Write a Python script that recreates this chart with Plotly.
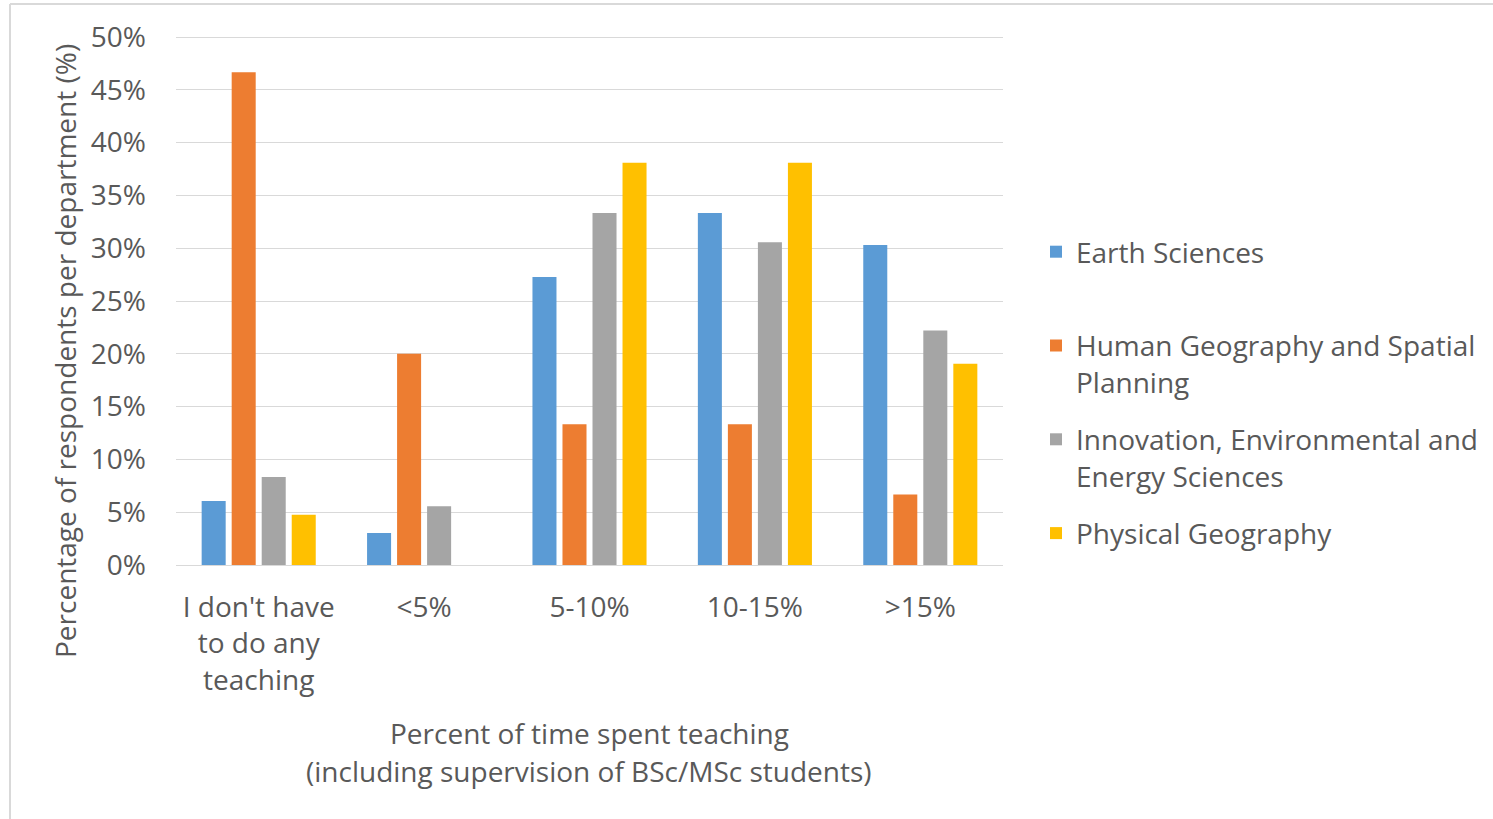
import plotly.graph_objects as go

# Share of respondents per department, by time spent teaching
categories = ["I don't have<br>to do any<br>teaching", "<5%", "5-10%", "10-15%", ">15%"]
earth_sciences = [6.06, 3.03, 27.27, 33.33, 30.30]
human_geography = [46.67, 20.00, 13.33, 13.33, 6.67]
innovation_env = [8.33, 5.56, 33.33, 30.56, 22.22]
physical_geography = [4.76, 0.0, 38.10, 38.10, 19.05]

series_names = [
    "Earth Sciences<br> ",
    "Human Geography and Spatial<br>Planning",
    "Innovation, Environmental and<br>Energy Sciences",
    "Physical Geography",
]
series_values = [earth_sciences, human_geography, innovation_env, physical_geography]
series_colors = ["#5B9BD5", "#ED7D31", "#A5A5A5", "#FFC000"]
y_ticks = [0, 5, 10, 15, 20, 25, 30, 35, 40, 45, 50]
y_ticktext = [f"{v}%" for v in y_ticks]

TEXT = "#595959"
FONT = "Open Sans"
FS = 28
W, H = 1493, 819
Y_MAX = 50.1
L, R, B = 176, 490, 254
PX_PER_UNIT = (565 - 37) / 50
T = round(37 - (Y_MAX - 50) * PX_PER_UNIT)
PW, PH = W - L - R, H - T - B

fig = go.Figure()
for name, vals, col in zip(series_names, series_values, series_colors):
    fig.add_trace(go.Bar(
        x=categories, y=vals, name=name, legendgroup=name,
        marker=dict(color=col, line=dict(width=0)),
    ))


def px_x(px):
    return (px - L) / PW


def px_y(py):
    return (H - B - py) / PH


fig.update_layout(
    width=W, height=H,
    margin=dict(l=L, r=R, t=T, b=B, autoexpand=False),
    paper_bgcolor="white", plot_bgcolor="white",
    font=dict(family=FONT, color=TEXT, size=FS),
    barmode="group", bargap=0.274, bargroupgap=0.2,
    showlegend=True,
    legend=dict(
        x=px_x(1036), y=px_y(227), xanchor="left", yanchor="top",
        font=dict(family=FONT, size=FS, color=TEXT),
        valign="top", tracegroupgap=18, bgcolor="rgba(0,0,0,0)",
    ),
    xaxis=dict(
        showgrid=False, showline=False, zeroline=False, ticks="",
        tickfont=dict(family=FONT, size=FS, color=TEXT),
        ticklabelstandoff=23,
    ),
    yaxis=dict(
        range=[0, Y_MAX], tickmode="array", tickvals=y_ticks, ticktext=y_ticktext,
        showgrid=True, gridcolor="#D9D9D9", gridwidth=1,
        zeroline=True, zerolinecolor="#D9D9D9", zerolinewidth=1,
        showline=False, ticks="",
        tickfont=dict(family=FONT, size=FS, color=TEXT),
        ticklabelstandoff=29,
    ),
    annotations=[
        dict(text="Percentage of respondents per department (%)", textangle=-90,
             xref="paper", yref="paper", x=px_x(65), y=px_y(351),
             xanchor="center", yanchor="middle", showarrow=False,
             font=dict(family=FONT, size=FS, color=TEXT)),
        dict(text="Percent of time spent teaching",
             xref="paper", yref="paper", x=px_x(589), y=px_y(733),
             xanchor="center", yanchor="middle", showarrow=False,
             font=dict(family=FONT, size=FS, color=TEXT)),
        dict(text="(including supervision of BSc/MSc students)",
             xref="paper", yref="paper", x=px_x(589), y=px_y(771),
             xanchor="center", yanchor="middle", showarrow=False,
             font=dict(family=FONT, size=FS, color=TEXT)),
    ],
    shapes=[
        dict(type="line", xref="paper", yref="paper",
             x0=px_x(10), x1=px_x(10), y0=px_y(4), y1=px_y(H + 2),
             line=dict(color="#D9D9D9", width=2)),
        dict(type="line", xref="paper", yref="paper",
             x0=px_x(10), x1=px_x(W + 2), y0=px_y(4), y1=px_y(4),
             line=dict(color="#D9D9D9", width=2)),
    ],
)

fig.write_html("out.html")
